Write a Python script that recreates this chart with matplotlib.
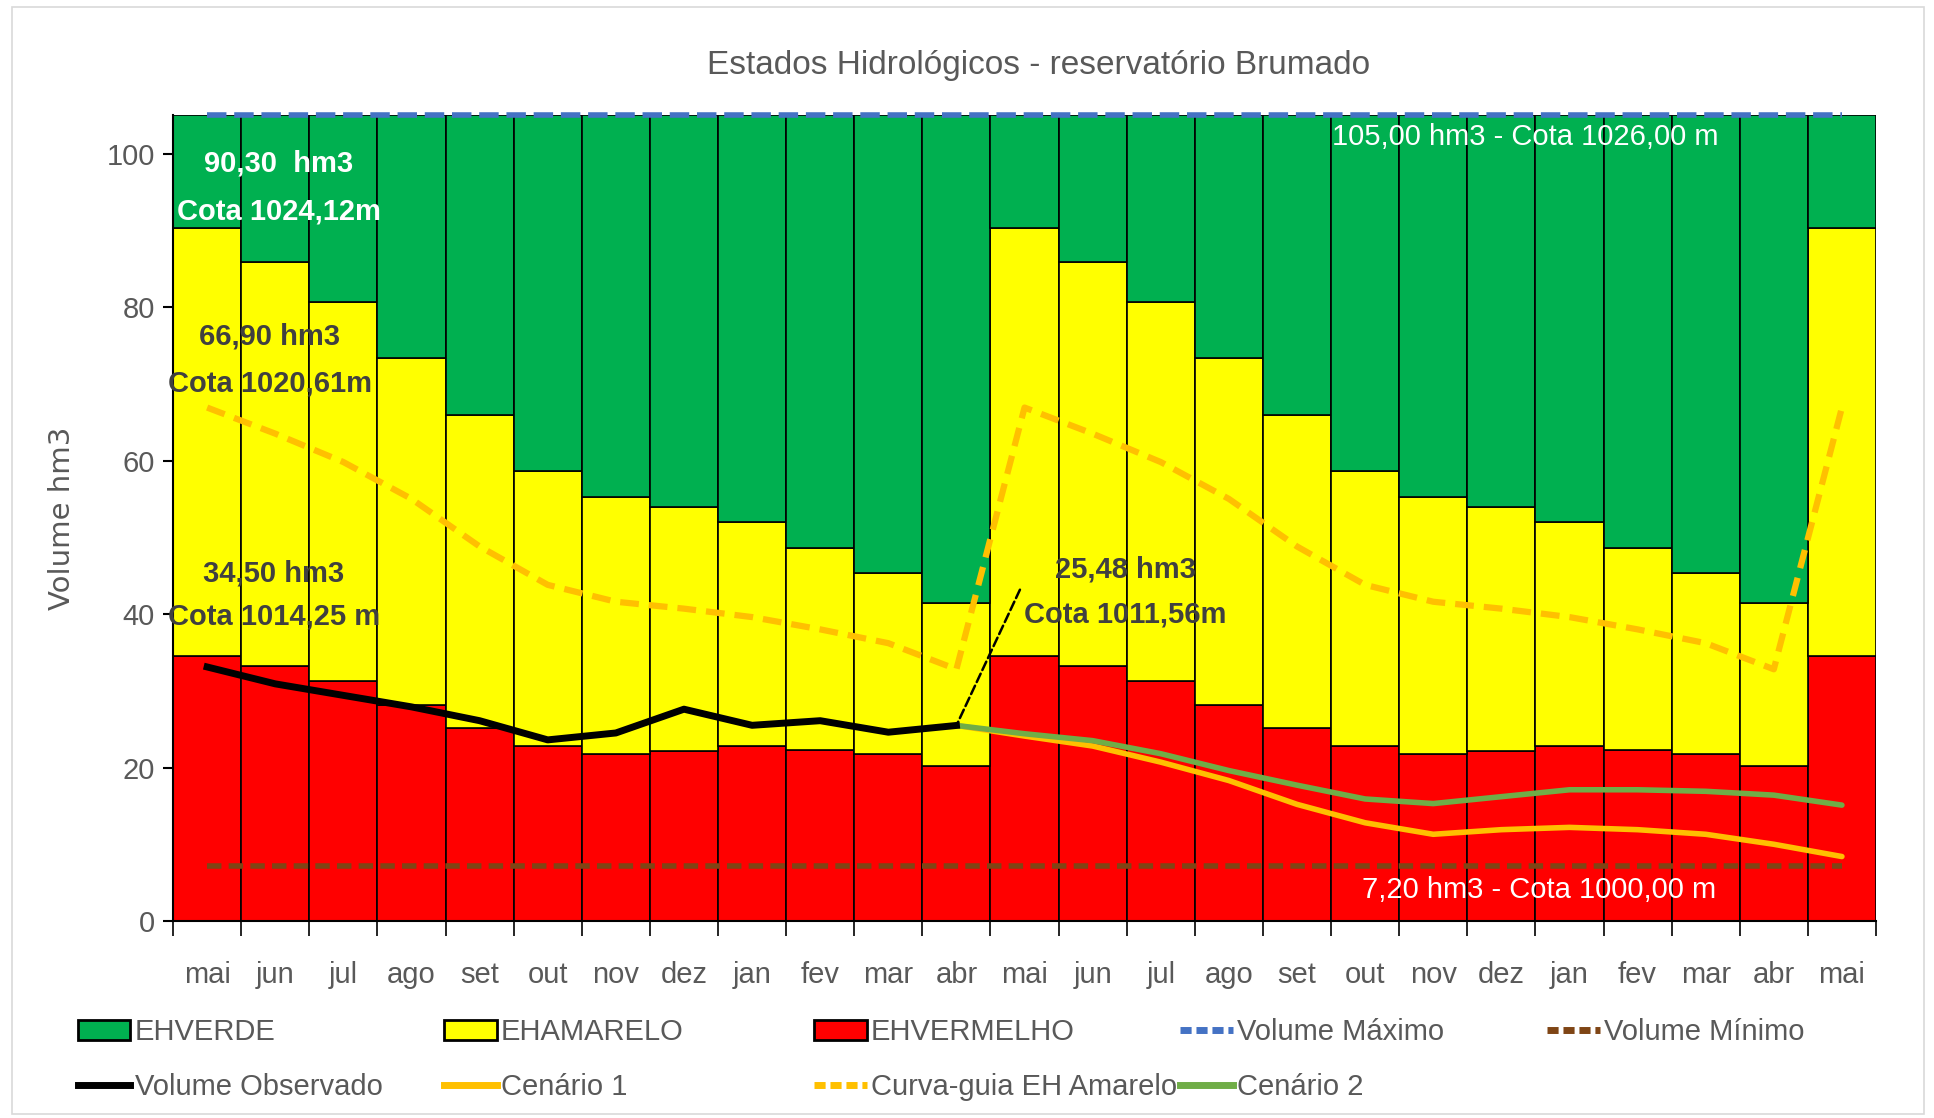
import matplotlib
matplotlib.use("Agg")
import matplotlib.pyplot as plt
from matplotlib.patches import Patch, Rectangle
from matplotlib.lines import Line2D
import numpy as np

plt.rcParams['font.family'] = ['Liberation Sans', 'DejaVu Sans']

# ---- data ----
months = ['mai', 'jun', 'jul', 'ago', 'set', 'out', 'nov', 'dez', 'jan', 'fev', 'mar', 'abr',
          'mai', 'jun', 'jul', 'ago', 'set', 'out', 'nov', 'dez', 'jan', 'fev', 'mar', 'abr', 'mai']
# upper limit of the red state (hm3)
red_top = [34.5, 33.2, 31.3, 28.2, 25.2, 22.8, 21.7, 22.2, 22.8, 22.3, 21.7, 20.2,
           34.5, 33.2, 31.3, 28.2, 25.2, 22.8, 21.7, 22.2, 22.8, 22.3, 21.7, 20.2, 34.5]
# upper limit of the yellow state (hm3)
yellow_top = [90.3, 85.9, 80.6, 73.4, 65.9, 58.6, 55.3, 54.0, 52.0, 48.6, 45.3, 41.5,
              90.3, 85.9, 80.6, 73.4, 65.9, 58.6, 55.3, 54.0, 52.0, 48.6, 45.3, 41.5, 90.3]
vol_max = 105.0
vol_min = 7.2
curva_guia = [66.9, 63.5, 59.8, 55.0, 48.8, 43.8, 41.6, 40.7, 39.6, 38.0, 36.2, 32.8,
              66.9, 63.5, 59.8, 55.0, 48.8, 43.8, 41.6, 40.7, 39.6, 38.0, 36.2, 32.8, 66.9]
observado = [33.1, 30.9, 29.4, 27.9, 26.1, 23.6, 24.5, 27.6, 25.5, 26.1, 24.6, 25.48]
cenario1 = [25.48, 24.1, 22.8, 20.7, 18.3, 15.2, 12.8, 11.3, 11.9, 12.2, 11.9, 11.3, 10.0, 8.4]
cenario2 = [25.48, 24.4, 23.5, 21.8, 19.6, 17.7, 15.9, 15.3, 16.2, 17.1, 17.1, 16.9, 16.4, 15.1]

x = np.arange(len(months))
x_obs = x[:len(observado)]
x_cen = x[len(observado) - 1:]

c_green = '#00B050'
c_yellow = '#FFFF00'
c_red = '#FF0000'
c_blue = '#4472C4'
c_brown = '#7F4515'
c_gold = '#FFC000'
c_cen2 = '#70AD47'
c_text = '#595959'
c_dark = '#404040'

fig = plt.figure(figsize=(19.34, 11.18), dpi=100)
ax = fig.add_axes([0.0895, 0.1762, 0.8805, 0.7208])

red_top = np.array(red_top)
yellow_top = np.array(yellow_top)
ax.bar(x, red_top, width=1.0, color=c_red, edgecolor='black', linewidth=1.2, zorder=1)
ax.bar(x, yellow_top - red_top, bottom=red_top, width=1.0, color=c_yellow,
       edgecolor='black', linewidth=1.2, zorder=1)
ax.bar(x, vol_max - yellow_top, bottom=yellow_top, width=1.0, color=c_green,
       edgecolor='black', linewidth=1.2, zorder=1)

ax.plot(x, [vol_max] * len(x), color=c_blue, lw=4, ls=(0, (3.5, 1.4)), zorder=3,
        clip_on=False)
ax.plot(x, [vol_min] * len(x), color=c_brown, lw=4, ls=(0, (2.6, 1.3)), zorder=3)
ax.plot(x, curva_guia, color=c_gold, lw=4.5, ls=(0, (3.0, 1.6)), zorder=3)
ax.plot(x_cen, cenario1, color=c_gold, lw=4, solid_capstyle='round', zorder=4)
ax.plot(x_cen, cenario2, color=c_cen2, lw=4, solid_capstyle='round', zorder=4)
ax.plot(x_obs, observado, color='black', lw=5, solid_joinstyle='round', zorder=5)

# leader line for the last observed value
ax.annotate('', xy=(x_obs[-1], observado[-1]), xytext=(11.95, 43.5),
            arrowprops=dict(arrowstyle='-', color='black', lw=1.8, ls='--'), zorder=5)

# annotations
bold = dict(fontsize=21, fontweight='bold', ha='center', va='center', zorder=6)
ax.text(1.05, 98.7, '90,30  hm3', color='white', **bold)
ax.text(1.05, 92.4, 'Cota 1024,12m', color='white', **bold)
ax.text(0.92, 76.2, '66,90 hm3', color=c_dark, **bold)
ax.text(0.92, 70.1, 'Cota 1020,61m', color=c_dark, **bold)
ax.text(0.98, 45.3, '34,50 hm3', color=c_dark, **bold)
ax.text(0.98, 39.7, 'Cota 1014,25 m', color=c_dark, **bold)
ax.text(13.48, 45.8, '25,48 hm3', color=c_dark, **bold)
ax.text(13.48, 40.0, 'Cota 1011,56m', color=c_dark, **bold)
ax.text(19.35, 102.1, '105,00 hm3 - Cota 1026,00 m', color='white', fontsize=21,
        ha='center', va='center', zorder=6)
ax.text(19.55, 4.0, '7,20 hm3 - Cota 1000,00 m', color='white', fontsize=21,
        ha='center', va='center', zorder=6)

# axes styling
ax.set_xlim(-0.5, len(months) - 0.5)
ax.set_ylim(0, 105)
ax.set_yticks(np.arange(0, 101, 20))
ax.set_xticks(x)
ax.set_xticklabels(months)
ax.set_xticks(np.arange(-0.5, len(months), 1.0), minor=True)
ax.tick_params(axis='x', which='major', length=0, pad=29, labelsize=21, labelcolor=c_text)
ax.tick_params(axis='x', which='minor', length=11, width=1.2, color='black')
ax.tick_params(axis='y', length=7, width=1.5, color='black', labelsize=21,
               labelcolor=c_text, pad=6)
for s in ['top', 'right']:
    ax.spines[s].set_visible(False)
ax.spines['left'].set_linewidth(1.5)
ax.spines['bottom'].set_linewidth(1.5)
ax.set_ylabel('Volume hm3', fontsize=21, color=c_text, labelpad=22, family='DejaVu Sans')

fig.suptitle('Estados Hidrológicos - reservatório Brumado', x=0.537, y=0.955,
             fontsize=24, color=c_text)

# legend, one column at a time so the columns start at equal spacing
def box(c):
    return Patch(facecolor=c, edgecolor='black', linewidth=2)

def dline(c):
    return Line2D([], [], color=c, lw=5, ls=(0, (1.6, 0.7)))

def sline(c):
    return Line2D([], [], color=c, lw=5)

columns = [
    ([box(c_green), sline('black')], ['EHVERDE', 'Volume Observado']),
    ([box(c_yellow), sline(c_gold)], ['EHAMARELO', 'Cenário 1']),
    ([box(c_red), dline(c_gold)], ['EHVERMELHO', 'Curva-guia EH Amarelo']),
    ([dline(c_blue), sline(c_cen2)], ['Volume Máximo', 'Cenário 2']),
    ([dline(c_brown)], ['Volume Mínimo']),
]
col_x = [0.0402, 0.2296, 0.4209, 0.6102, 0.7999]
for (h, l), cx in zip(columns, col_x):
    leg = fig.legend(h, l, loc='upper left', bbox_to_anchor=(cx, 0.089),
                     frameon=False, fontsize=21, labelcolor=c_text, handlelength=1.8,
                     handleheight=0.7, handletextpad=0.15, labelspacing=0.9,
                     borderpad=0, borderaxespad=0)

# thin chart border
fig.patches.append(Rectangle((0.006, 0.004), 0.989, 0.99, transform=fig.transFigure,
                             fill=False, edgecolor='#D9D9D9', linewidth=1.2))

fig.savefig('out.png', dpi=100)
